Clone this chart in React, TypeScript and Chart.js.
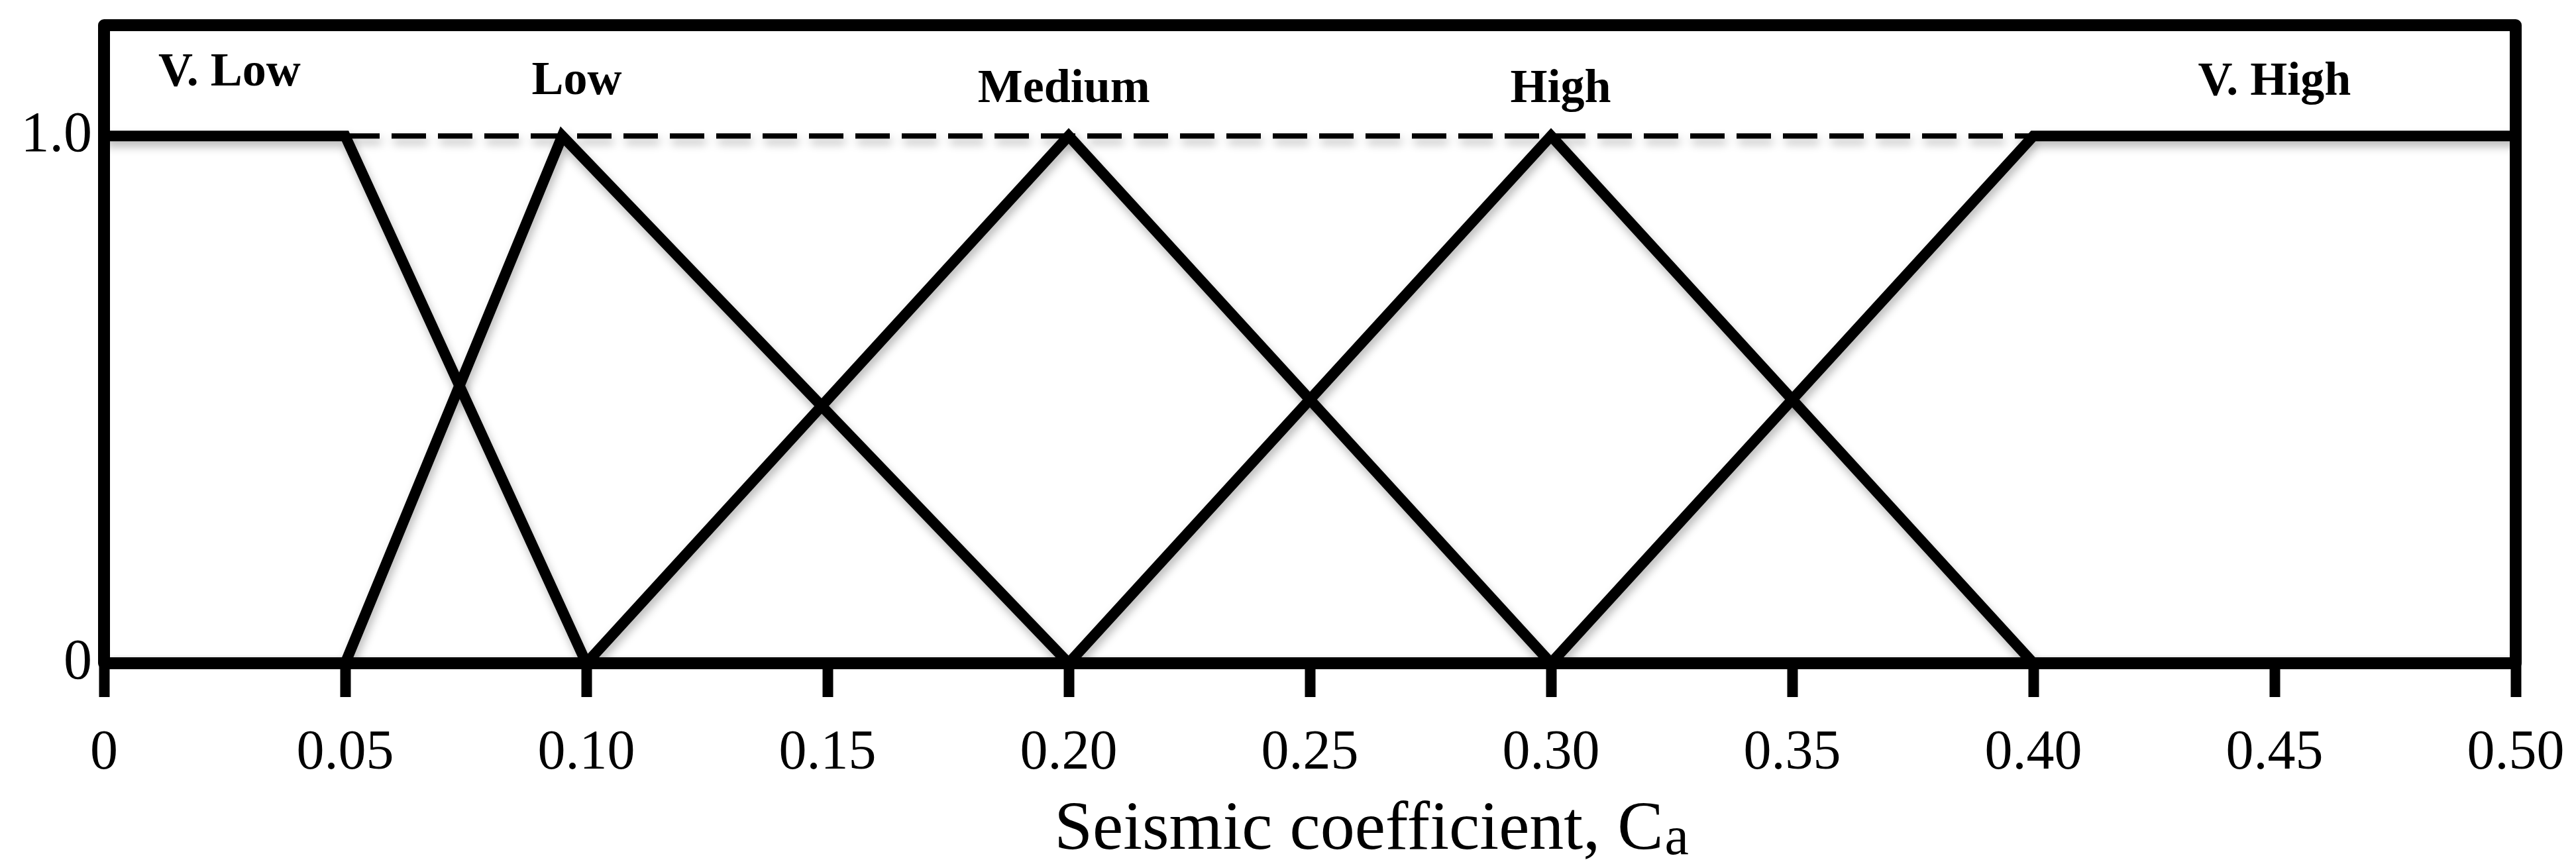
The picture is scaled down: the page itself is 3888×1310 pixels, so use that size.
import React, { useEffect, useRef } from "react";
import { Chart, registerables } from "chart.js";

Chart.register(...registerables);

// ---- data ----
const xTickValues = [0, 0.05, 0.1, 0.15, 0.2, 0.25, 0.3, 0.35, 0.4, 0.45, 0.5];
const xTickLabels = ["0", "0.05", "0.10", "0.15", "0.20", "0.25", "0.30", "0.35", "0.40", "0.45", "0.50"];
const yTickValues = [0, 1];
const yTickLabels = ["0", "1.0"];

const setNames = ["V. Low", "Low", "Medium", "High", "V. High"];
const vLowX = [0, 0.05, 0.1, 0.5];
const vLowY = [1, 1, 0, 0];
const lowX = [0, 0.05, 0.095, 0.2, 0.5];
const lowY = [0, 0, 1, 0, 0];
const mediumX = [0, 0.1, 0.2, 0.3, 0.5];
const mediumY = [0, 0, 1, 0, 0];
const highX = [0, 0.2, 0.3, 0.4, 0.5];
const highY = [0, 0, 1, 0, 0];
const vHighX = [0, 0.3, 0.4, 0.5];
const vHighY = [0, 0, 1, 1];
const dashX = [0.05, 0.4];
const dashY = [1, 1];

// label anchors in data units
const nameX = [0.026, 0.098, 0.199, 0.302, 0.45];
const nameY = [1.126, 1.109, 1.095, 1.095, 1.108];

const xTitleMain = "Seismic coefficient, C";
const xTitleSub = "a";
const xTitleStart = 0.197;

const SERIF = "'Liberation Serif', 'Times New Roman', serif";

const pts = (xs: number[], ys: number[]) => xs.map((x, i) => ({ x, y: ys[i] }));

const boxPlugin = {
  id: "boxAndLabels",
  beforeDatasetsDraw(chart: any) {
    const ctx = chart.ctx;
    ctx.save();
    ctx.shadowColor = "rgba(0,0,0,0.28)";
    ctx.shadowBlur = 14;
    ctx.shadowOffsetX = 3;
    ctx.shadowOffsetY = 8;
  },
  afterDatasetsDraw(chart: any) {
    chart.ctx.restore();
  },
  afterDraw(chart: any) {
    const { ctx, chartArea: a, scales } = chart;
    const xs = scales.x;
    const ys = scales.y;
    ctx.save();
    // box
    ctx.strokeStyle = "#000";
    ctx.lineWidth = 18;
    ctx.lineJoin = "round";
    ctx.strokeRect(a.left, a.top, a.right - a.left, a.bottom - a.top);
    // set names
    ctx.fillStyle = "#000";
    ctx.font = `bold 72px ${SERIF}`;
    ctx.textAlign = "center";
    ctx.textBaseline = "alphabetic";
    setNames.forEach((n, i) => {
      ctx.fillText(n, xs.getPixelForValue(nameX[i]), ys.getPixelForValue(nameY[i]) + 24);
    });
    // x title with subscript
    ctx.textAlign = "left";
    ctx.font = `104px ${SERIF}`;
    const x0 = xs.getPixelForValue(xTitleStart);
    const base = a.bottom + 280;
    ctx.fillText(xTitleMain, x0, base);
    const w = ctx.measureText(xTitleMain).width;
    ctx.font = `82px ${SERIF}`;
    ctx.fillText(xTitleSub, x0 + w + 2, base + 8);
    ctx.restore();
  },
};

export default function App() {
  const ref = useRef<HTMLCanvasElement | null>(null);
  useEffect(() => {
    if (!ref.current) return;
    const line = (data: any, extra: any = {}) => ({
      data,
      borderColor: "#000",
      borderWidth: 16,
      pointRadius: 0,
      tension: 0,
      fill: false,
      borderJoinStyle: "miter",
      borderCapStyle: "butt",
      ...extra,
    });
    const chart = new Chart(ref.current, {
      type: "line",
      data: {
        datasets: [
          line(pts(dashX, dashY), { borderWidth: 8, borderDash: [52, 18], label: "dash" }),
          line(pts(vLowX, vLowY), { label: setNames[0] }),
          line(pts(lowX, lowY), { label: setNames[1] }),
          line(pts(mediumX, mediumY), { label: setNames[2] }),
          line(pts(highX, highY), { label: setNames[3] }),
          line(pts(vHighX, vHighY), { label: setNames[4] }),
        ] as any,
      },
      options: {
        animation: false,
        responsive: false,
        devicePixelRatio: 1,
        maintainAspectRatio: false,
        layout: { padding: { top: 30, right: 83, left: 0, bottom: 0 } },
        plugins: { legend: { display: false }, tooltip: { enabled: false } },
        scales: {
          x: {
            type: "linear",
            min: 0,
            max: 0.5,
            afterBuildTicks: (s: any) => {
              s.ticks = xTickValues.map((v) => ({ value: v }));
            },
            afterFit: (s: any) => {
              s.height = 301;
              s.paddingLeft = 0;
              s.paddingRight = 0;
            },
            ticks: {
              autoSkip: false,
              maxRotation: 0,
              minRotation: 0,
              padding: 36,
              color: "#000",
              font: { family: SERIF, size: 84 },
              callback: (_v: any, i: number) => xTickLabels[i],
            },
            grid: {
              display: true,
              drawOnChartArea: false,
              drawTicks: true,
              tickLength: 51,
              tickWidth: 16,
              tickColor: "#000",
            },
            border: { display: false },
          },
          y: {
            type: "linear",
            min: 0,
            max: 1.21,
            afterBuildTicks: (s: any) => {
              s.ticks = yTickValues.map((v) => ({ value: v }));
            },
            afterFit: (s: any) => {
              s.width = 149;
              s.paddingTop = 0;
              s.paddingBottom = 0;
            },
            ticks: {
              padding: 18,
              color: "#000",
              font: { family: SERIF, size: 86 },
              callback: (_v: any, i: number) => yTickLabels[i],
            },
            grid: { display: false, drawTicks: false },
            border: { display: false },
          },
        },
      },
      plugins: [boxPlugin],
    });
    return () => chart.destroy();
  }, []);
  return <canvas ref={ref} width={3872} height={1294} style={{ display: "block" }} />;
}
